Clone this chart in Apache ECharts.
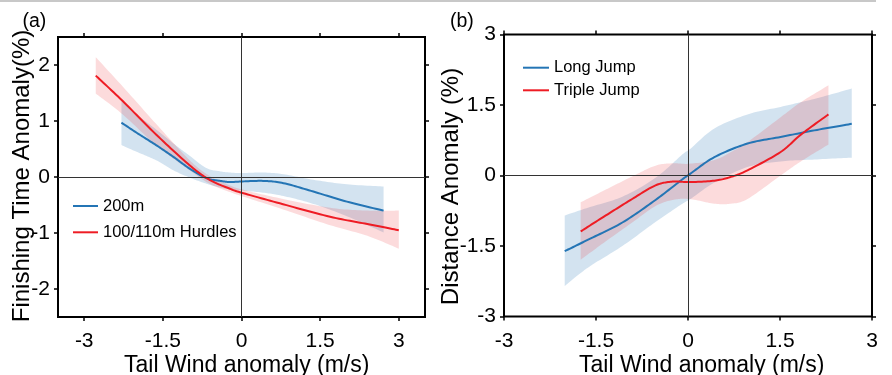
<!DOCTYPE html>
<html><head><meta charset="utf-8">
<script src="https://cdn.jsdelivr.net/npm/echarts@6/dist/echarts.min.js"></script>
<style>html,body{margin:0;padding:0;background:#fff}#c{width:892px;height:375px}</style>
</head><body><div id="c"></div>
<script>
// ---------- Panel (a): Finishing Time Anomaly ----------
const xTicksA = [-3, -1.5, 0, 1.5, 3];
const yTicksA = [-2, -1, 0, 1, 2];
const x200 = [-2.29, -2.0, -1.63, -1.3, -0.99, -0.67, -0.4, -0.22, 0, 0.41, 0.8, 1.37, 2.01, 2.71];
const y200 = [0.97, 0.79, 0.57, 0.36, 0.15, -0.02, -0.07, -0.09, -0.08, -0.07, -0.11, -0.26, -0.44, -0.60];
const hi200 = [1.37, 1.12, 0.85, 0.6, 0.38, 0.16, 0.1, 0.08, 0.07, 0.08, 0.05, -0.05, -0.13, -0.17];
const lo200 = [0.57, 0.45, 0.3, 0.12, -0.01, -0.12, -0.19, -0.22, -0.24, -0.28, -0.34, -0.48, -0.7, -0.99];
const xHur = [-2.78, -2.27, -1.63, -0.99, -0.61, -0.22, 0, 0.73, 1.69, 2.4, 3.0];
const yHur = [1.81, 1.36, 0.76, 0.21, -0.05, -0.21, -0.28, -0.47, -0.71, -0.84, -0.95];
const hiHur = [2.14, 1.62, 0.95, 0.3, 0.02, -0.15, -0.22, -0.38, -0.55, -0.6, -0.6];
const loHur = [1.49, 1.12, 0.57, 0.12, -0.12, -0.27, -0.34, -0.56, -0.86, -1.05, -1.28];

// ---------- Panel (b): Distance Anomaly ----------
const xLJ = [-2.01, -1.62, -1.07, -0.53, -0.09, 0.04, 0.43, 0.97, 1.51, 2.06, 2.67];
const yLJ = [-1.61, -1.36, -1.0, -0.52, -0.08, 0.04, 0.39, 0.68, 0.82, 0.96, 1.1];
const hiLJ = [-0.85, -0.68, -0.45, -0.05, 0.45, 0.57, 1.0, 1.3, 1.46, 1.63, 1.85];
const loLJ = [-2.35, -1.95, -1.5, -0.99, -0.6, -0.5, -0.15, 0.18, 0.3, 0.34, 0.38];
const xTJ = [-1.75, -1.34, -0.91, -0.53, -0.25, 0.02, 0.43, 0.7, 0.97, 1.51, 1.84, 2.29];
const yTJ = [-1.19, -0.85, -0.5, -0.21, -0.13, -0.14, -0.11, -0.03, 0.11, 0.5, 0.87, 1.3];
const hiTJ = [-0.57, -0.3, -0.02, 0.21, 0.26, 0.25, 0.33, 0.5, 0.71, 1.24, 1.56, 1.92];
const loTJ = [-1.79, -1.4, -1.0, -0.65, -0.52, -0.5, -0.6, -0.6, -0.5, 0.0, 0.3, 0.66];
const ticksB = [-3, -1.5, 0, 1.5, 3];

const BLUE = '#2475b5', RED = '#ee1c24';
const BLUE_BAND = 'rgba(36,117,181,0.2)', RED_BAND = 'rgba(238,28,36,0.16)';
const FONT = 'Liberation Sans, Arial, sans-serif';

// Catmull-Rom sampling in pixel space (rendering only)
function smoothPts(p) {
  const out = [p[0]];
  const n = p.length, k = 1 / 6, steps = 14;
  for (let i = 0; i < n - 1; i++) {
    const p0 = p[Math.max(0, i - 1)], p1 = p[i], p2 = p[i + 1], p3 = p[Math.min(n - 1, i + 2)];
    const c1 = [p1[0] + (p2[0] - p0[0]) * k, p1[1] + (p2[1] - p0[1]) * k];
    const c2 = [p2[0] - (p3[0] - p1[0]) * k, p2[1] - (p3[1] - p1[1]) * k];
    for (let s = 1; s <= steps; s++) {
      const t = s / steps, u = 1 - t;
      out.push([
        u * u * u * p1[0] + 3 * u * u * t * c1[0] + 3 * u * t * t * c2[0] + t * t * t * p2[0],
        u * u * u * p1[1] + 3 * u * u * t * c1[1] + 3 * u * t * t * c2[1] + t * t * t * p2[1]
      ]);
    }
  }
  return out;
}
function band(xs, lo, hi, color, gi) {
  return {
    type: 'custom', xAxisIndex: gi * 2, yAxisIndex: gi * 2, silent: true, z: 1,
    data: xs.map((x, i) => [x, lo[i], hi[i]]),
    encode: { x: 0, y: [1, 2] },
    renderItem: function (params, api) {
      if (params.dataIndex !== 0) return;
      const up = smoothPts(xs.map((x, i) => api.coord([x, hi[i]])));
      const dn = smoothPts(xs.map((x, i) => api.coord([x, lo[i]]))).reverse();
      return { type: 'polygon', shape: { points: up.concat(dn) }, style: { fill: color } };
    }
  };
}
function curve(name, xs, ys, color, gi) {
  return {
    type: 'custom', name: name, xAxisIndex: gi * 2, yAxisIndex: gi * 2, silent: true, z: 3,
    itemStyle: { color: color },
    data: xs.map((x, i) => [x, ys[i]]),
    encode: { x: 0, y: 1 },
    renderItem: function (params, api) {
      if (params.dataIndex !== 0) return;
      const pts = smoothPts(xs.map((x, i) => api.coord([x, ys[i]])));
      return { type: 'polyline', shape: { points: pts }, style: { stroke: color, lineWidth: 2, fill: null } };
    }
  };
}
function zeroLines(gi) {
  return { type: 'line', xAxisIndex: gi * 2, yAxisIndex: gi * 2, data: [], silent: true,
    markLine: { silent: true, symbol: ['none', 'none'], label: { show: false }, animation: false,
      lineStyle: { color: '#333', width: 1, type: 'solid' }, data: [{ xAxis: 0 }, { yAxis: 0 }] } };
}
function xAx(gi, min, max, ticks, pos, labels) {
  return { gridIndex: gi, type: 'value', min: min, max: max, position: pos,
    axisLine: { show: false, onZero: false }, splitLine: { show: false },
    axisTick: { show: true, inside: false, length: 4, customValues: ticks, lineStyle: { color: '#000', width: 1.5 } },
    axisLabel: { show: labels, customValues: ticks, fontSize: 21, color: '#000', fontFamily: FONT, margin: 14 } };
}
function yAx(gi, min, max, ticks, pos, labels) {
  return { gridIndex: gi, type: 'value', min: min, max: max, position: pos,
    axisLine: { show: false, onZero: false }, splitLine: { show: false },
    axisTick: { show: true, inside: false, length: 4, customValues: ticks, lineStyle: { color: '#000', width: 1.5 } },
    axisLabel: { show: labels, customValues: ticks, fontSize: 21, color: '#000', fontFamily: FONT, margin: 8 } };
}

const chart = echarts.init(document.getElementById('c'), null, { renderer: 'canvas' });
chart.setOption({
  animation: false,
  backgroundColor: '#fff',
  grid: [
    { left: 58, top: 37, width: 367, height: 280, show: true, borderColor: '#000', borderWidth: 2, backgroundColor: 'transparent' },
    { left: 504, top: 34.5, width: 368, height: 282, show: true, borderColor: '#000', borderWidth: 2, backgroundColor: 'transparent' }
  ],
  xAxis: [
    xAx(0, -3.5, 3.5, xTicksA, 'bottom', true), xAx(0, -3.5, 3.5, xTicksA, 'top', false),
    xAx(1, -3, 3, ticksB, 'bottom', true), xAx(1, -3, 3, ticksB, 'top', false)
  ],
  yAxis: [
    yAx(0, -2.5, 2.5, yTicksA, 'left', true), yAx(0, -2.5, 2.5, yTicksA, 'right', false),
    yAx(1, -3, 3, ticksB, 'left', true), yAx(1, -3, 3, ticksB, 'right', false)
  ],
  legend: [
    { data: ['200m', '100/110m Hurdles'], left: 68, top: 191, orient: 'vertical', icon: 'rect',
      itemWidth: 25, itemHeight: 2, itemGap: 6.3, textStyle: { fontSize: 16.5, color: '#000', fontFamily: FONT, lineHeight: 20 } },
    { data: ['Long Jump', 'Triple Jump'], left: 518, top: 52.7, orient: 'vertical', icon: 'rect',
      itemWidth: 26, itemHeight: 2, itemGap: 2.6, textStyle: { fontSize: 16.5, color: '#000', fontFamily: FONT, lineHeight: 20 } }
  ],
  series: [
    zeroLines(0),
    band(x200, lo200, hi200, BLUE_BAND, 0),
    band(xHur, loHur, hiHur, RED_BAND, 0),
    curve('200m', x200, y200, BLUE, 0),
    curve('100/110m Hurdles', xHur, yHur, RED, 0),
    zeroLines(1),
    band(xLJ, loLJ, hiLJ, BLUE_BAND, 1),
    band(xTJ, loTJ, hiTJ, RED_BAND, 1),
    curve('Long Jump', xLJ, yLJ, BLUE, 1),
    curve('Triple Jump', xTJ, yTJ, RED, 1)
  ],
  graphic: [
    { type: 'line', shape: { x1: 0, y1: 1, x2: 876, y2: 1 }, style: { stroke: '#c8c8c8', lineWidth: 2 }, silent: true },
    { type: 'text', x: 22.5, y: 22, style: { text: '(a)', fontSize: 19.5, fill: '#000', fontFamily: FONT, align: 'left', verticalAlign: 'middle' } },
    { type: 'text', x: 450, y: 22, style: { text: '(b)', fontSize: 19.5, fill: '#000', fontFamily: FONT, align: 'left', verticalAlign: 'middle' } },
    { type: 'text', x: 22, y: 176, rotation: Math.PI / 2,
      style: { text: 'Finishing Time Anomaly(%)', fontSize: 24, fill: '#000', fontFamily: FONT, align: 'center', verticalAlign: 'middle' } },
    { type: 'text', x: 451, y: 186.5, rotation: Math.PI / 2,
      style: { text: 'Distance Anomaly (%)', fontSize: 24, fill: '#000', fontFamily: FONT, align: 'center', verticalAlign: 'middle' } },
    { type: 'text', x: 246.7, y: 366, style: { text: 'Tail Wind anomaly (m/s)', fontSize: 23, fill: '#000', fontFamily: FONT, align: 'center', verticalAlign: 'middle' } },
    { type: 'text', x: 701.7, y: 366, style: { text: 'Tail Wind anomaly (m/s)', fontSize: 23, fill: '#000', fontFamily: FONT, align: 'center', verticalAlign: 'middle' } }
  ]
});
</script></body></html>
